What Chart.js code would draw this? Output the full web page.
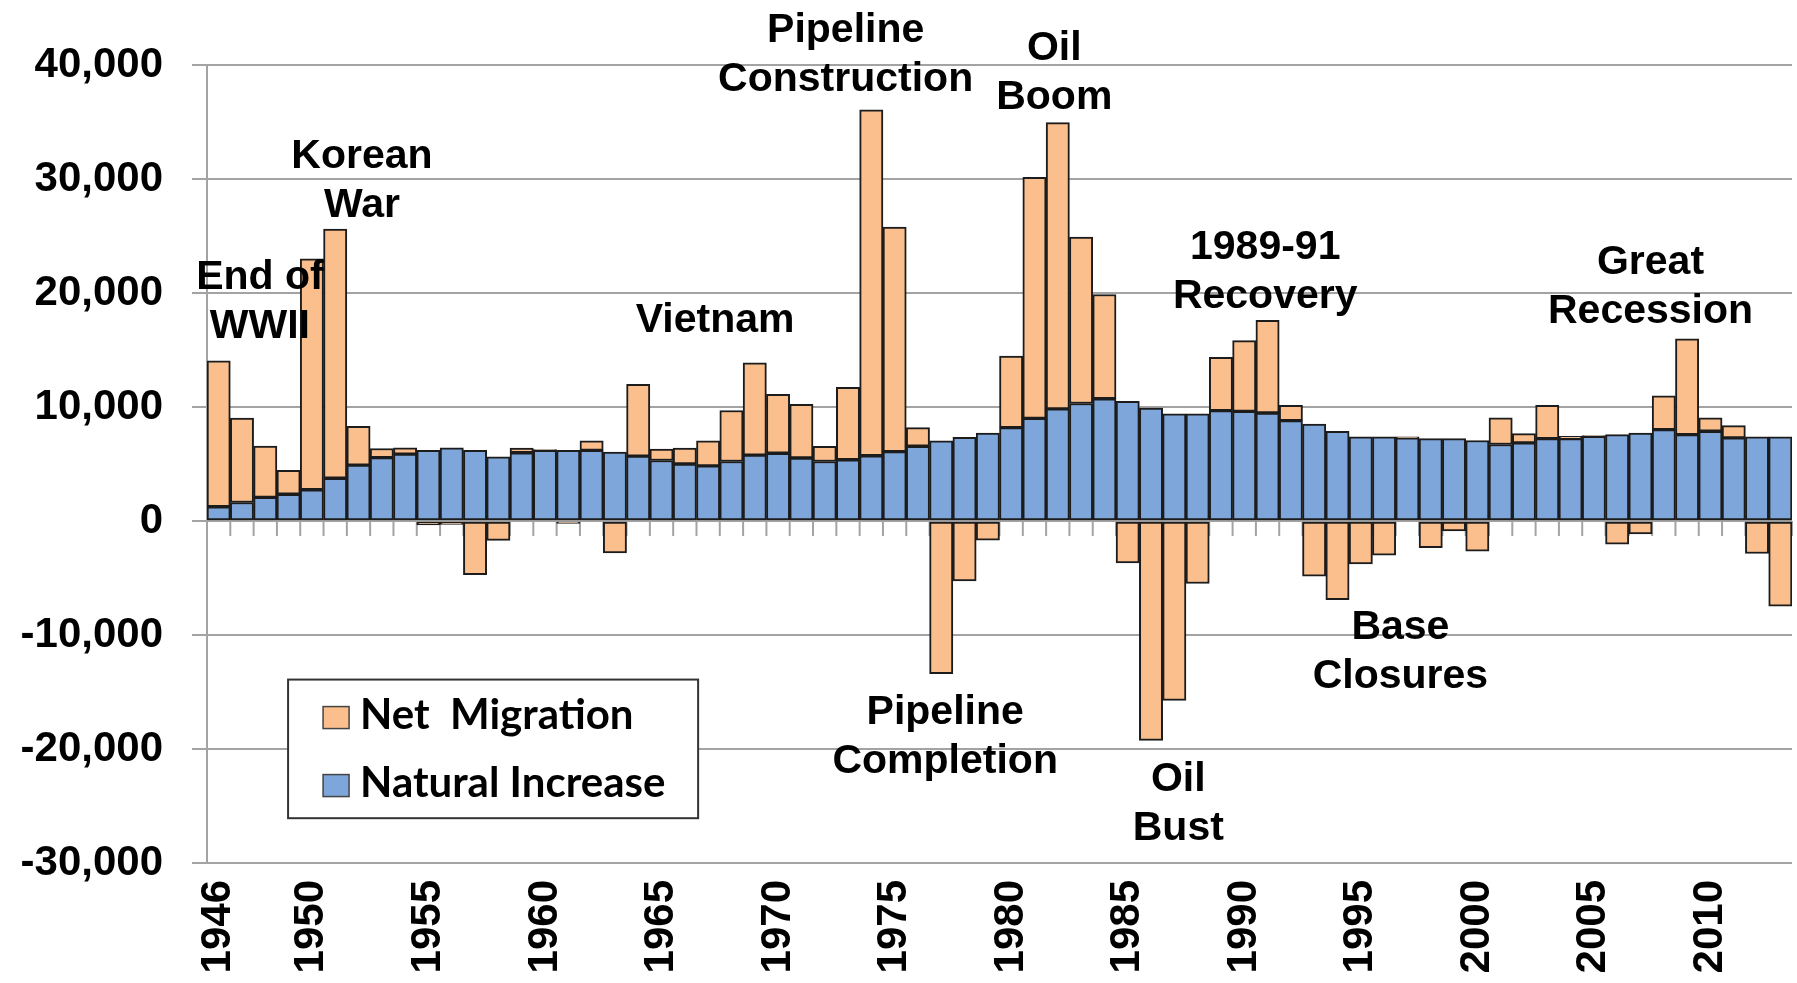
<!DOCTYPE html>
<html>
<head>
<meta charset="utf-8">
<script src="https://cdn.jsdelivr.net/npm/chart.js@4"></script>
<style>
  body { margin: 0; background: #fff; }
  #wrap { width: 1797px; height: 983px; }
</style>
</head>
<body>
<div id="wrap"><canvas id="popChart" width="1797" height="983"></canvas></div>
<script>
// Alaska population change components, 1946-2013
const years = [
  1946, 1947, 1948, 1949, 1950, 1951, 1952, 1953, 1954, 1955,
  1956, 1957, 1958, 1959, 1960, 1961, 1962, 1963, 1964, 1965,
  1966, 1967, 1968, 1969, 1970, 1971, 1972, 1973, 1974, 1975,
  1976, 1977, 1978, 1979, 1980, 1981, 1982, 1983, 1984, 1985,
  1986, 1987, 1988, 1989, 1990, 1991, 1992, 1993, 1994, 1995,
  1996, 1997, 1998, 1999, 2000, 2001, 2002, 2003, 2004, 2005,
  2006, 2007, 2008, 2009, 2010, 2011, 2012, 2013
];

const naturalIncrease = [
  1250, 1620, 2070, 2350, 2740, 3750, 4900, 5560, 5870, 6190,
  6410, 6190, 5630, 5990, 6190, 6190, 6190, 6050, 5690, 5310,
  5000, 4840, 5220, 5780, 5940, 5530, 5220, 5375, 5720, 6090,
  6560, 7030, 7340, 7720, 8190, 9000, 9840, 10310, 10720, 10500,
  9910, 9390, 9390, 9680, 9620, 9475, 8800, 8510, 7870, 7380,
  7380, 7290, 7230, 7230, 7060, 6710, 6850, 7230, 7230, 7430,
  7580, 7720, 8020, 7580, 7870, 7290, 7380, 7380
];

const netMigration = [
  12800, 7400, 4500, 2100, 20250, 21850, 3400, 800, 550, -350,
  -300, -4700, -1700, 400, 80, -220, 840, -2800, 6300, 1000,
  1400, 2190, 4470, 8100, 5180, 4700, 1340, 6360, 30350, 19700,
  1630, -13400, -5250, -1680, 6270, 21150, 25100, 14600, 9150, -3670,
  -19240, -15740, -5480, 4680, 6200, 8120, 1350, -4830, -6910, -3760,
  -2990, 100, -2330, -870, -2650, 2330, 820, 2920, 200, 60,
  -2040, -1140, 2970, 8400, 1170, 1080, -2850, -7480
];

const yTicks = [-30000, -20000, -10000, 0, 10000, 20000, 30000, 40000];

// event labels: lines, category position, value of first line
const events = [
  { lines: ['End of', 'WWII'], x: 1.77, y: 21350 },
  { lines: ['Korean', 'War'], x: 6.15, y: 31930 },
  { lines: ['Vietnam'], x: 21.3, y: 17590 },
  { lines: ['Pipeline', 'Construction'], x: 26.9, y: 43040 },
  { lines: ['Oil', 'Boom'], x: 35.85, y: 41470 },
  { lines: ['1989-91', 'Recovery'], x: 44.9, y: 23970 },
  { lines: ['Great', 'Recession'], x: 61.43, y: 22660 },
  { lines: ['Pipeline', 'Completion'], x: 31.17, y: -16800 },
  { lines: ['Oil', 'Bust'], x: 41.17, y: -22660 },
  { lines: ['Base', 'Closures'], x: 50.7, y: -9360 }
];

const ORANGE = '#FBBF8D';
const BLUE = '#7EA6DA';
const EDGE = '#1c1c1c';
const GRID = '#a3a3a3';
const FONT = '"Liberation Sans", Arial, sans-serif';

// little tick marks under the zero line between categories
const zeroTicks = {
  id: 'zeroTicks',
  beforeDatasetsDraw(chart) {
    const { ctx, scales: { x, y } } = chart;
    const y0 = y.getPixelForValue(0);
    ctx.save();
    ctx.strokeStyle = GRID;
    ctx.lineWidth = 2;
    for (let i = 0; i <= years.length; i++) {
      const px = x.getPixelForValue(i - 0.5);
      ctx.beginPath();
      ctx.moveTo(px, y0);
      ctx.lineTo(px, y0 + 15);
      ctx.stroke();
    }
    ctx.restore();
  }
};

const eventLabels = {
  id: 'eventLabels',
  afterDraw(chart) {
    const { ctx, scales: { x, y } } = chart;
    ctx.save();
    ctx.font = 'bold 41px ' + FONT;
    ctx.fillStyle = '#000';
    ctx.textAlign = 'center';
    ctx.textBaseline = 'middle';
    events.forEach(ev => {
      const px = x.getPixelForValue(ev.x);
      const py = y.getPixelForValue(ev.y);
      ev.lines.forEach((line, k) => ctx.fillText(line, px, py + k * 49));
    });
    ctx.restore();
  }
};

const boxLegend = {
  id: 'boxLegend',
  afterDraw(chart) {
    const { ctx, scales: { x, y } } = chart;
    const left = x.getPixelForValue(3) - 0.5;
    const right = x.getPixelForValue(20.57);
    const top = y.getPixelForValue(-13910);
    const bottom = y.getPixelForValue(-26070);
    ctx.save();
    ctx.fillStyle = '#fff';
    ctx.fillRect(left, top, right - left, bottom - top);
    ctx.strokeStyle = '#333';
    ctx.lineWidth = 2;
    ctx.strokeRect(left, top, right - left, bottom - top);
    const items = [
      { label: 'Net  Migration', color: ORANGE },
      { label: 'Natural Increase', color: BLUE }
    ];
    ctx.font = 'bold 42px Lato, "Open Sans", sans-serif';
    ctx.textBaseline = 'alphabetic';
    ctx.textAlign = 'left';
    items.forEach((it, k) => {
      const base = top + 49 + k * 68;
      ctx.fillStyle = it.color;
      ctx.fillRect(left + 35, base - 22, 26, 22);
      ctx.strokeStyle = '#444';
      ctx.lineWidth = 1.5;
      ctx.strokeRect(left + 35, base - 22, 26, 22);
      ctx.fillStyle = '#000';
      ctx.fillText(it.label, left + 72, base);
    });
    ctx.restore();
  }
};

const ctx = document.getElementById('popChart').getContext('2d');
new Chart(ctx, {
  type: 'bar',
  data: {
    labels: years,
    datasets: [
      {
        label: 'Natural Increase',
        data: naturalIncrease,
        backgroundColor: BLUE,
        borderColor: EDGE,
        borderWidth: 2,
        borderSkipped: false,
        categoryPercentage: 1,
        barPercentage: 1
      },
      {
        label: 'Net  Migration',
        data: netMigration,
        backgroundColor: ORANGE,
        borderColor: EDGE,
        borderWidth: 2,
        borderSkipped: false,
        categoryPercentage: 1,
        barPercentage: 1
      }
    ]
  },
  options: {
    responsive: false,
    animation: false,
    layout: { padding: { top: 65, right: 5, left: 0, bottom: 0 } },
    plugins: {
      legend: { display: false },
      tooltip: { enabled: false }
    },
    scales: {
      x: {
        stacked: true,
        afterFit: s => { s.height = 120; s.paddingLeft = 0; s.paddingRight = 0; },
        grid: { display: false, drawTicks: false },
        border: { display: false },
        ticks: {
          autoSkip: false,
          minRotation: 90,
          maxRotation: 90,
          padding: 17,
          color: '#000',
          font: { family: FONT, size: 42, weight: 'bold' },
          callback: function (val, i) {
            const yr = years[i];
            return (yr === 1946 || yr % 5 === 0) ? String(yr) : '';
          }
        }
      },
      y: {
        stacked: true,
        min: -30000,
        max: 40000,
        afterFit: s => { s.width = 207; },
        afterBuildTicks: s => { s.ticks = yTicks.map(v => ({ value: v })); },
        grid: { color: GRID, lineWidth: 2, tickLength: 15, drawTicks: true },
        border: { display: true, color: GRID, width: 2 },
        ticks: {
          padding: 29,
          color: '#000',
          font: { family: FONT, size: 42, weight: 'bold' },
          callback: v => v.toLocaleString('en-US')
        }
      }
    }
  },
  plugins: [zeroTicks, eventLabels, boxLegend]
});
</script>
</body>
</html>
